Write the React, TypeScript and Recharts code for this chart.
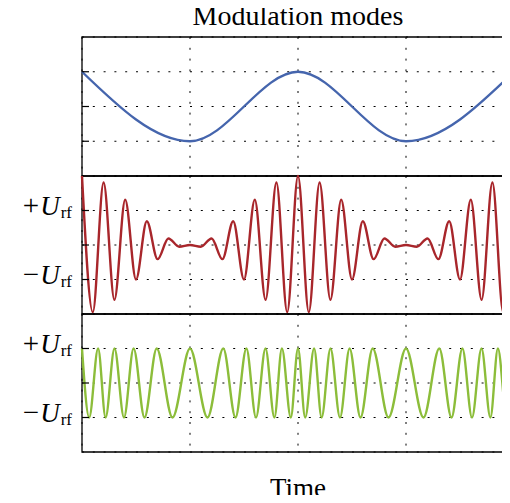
import { CartesianGrid, Line, LineChart, ReferenceArea, XAxis, YAxis } from "recharts";

// modulating signal: peaks and troughs
const modTimes = [0, 108, 216, 324, 432];
const modValues = [1, -1, 1, -1, 1];

// AM carrier: one extremum every half carrier period
const amTimes = [
  0, 10.8, 21.6, 32.4, 43.2, 54, 64.8, 75.6, 86.4, 97.2, 108, 118.8, 129.6, 140.4, 151.2, 162, 172.8, 183.6, 194.4,
  205.2, 216, 226.8, 237.6, 248.4, 259.2, 270, 280.8, 291.6, 302.4, 313.2, 324, 334.8, 345.6, 356.4, 367.2, 378,
  388.8, 399.6, 410.4, 421.2, 432,
];
const amValues = [
  2, -1.95, 1.81, -1.59, 1.31, -1, 0.69, -0.41, 0.19, -0.05, 0, -0.05, 0.19, -0.41, 0.69, -1, 1.31, -1.59, 1.81,
  -1.95, 2, -1.95, 1.81, -1.59, 1.31, -1, 0.69, -0.41, 0.19, -0.05, 0, -0.05, 0.19, -0.41, 0.69, -1, 1.31, -1.59,
  1.81, -1.95, 2,
];

// FM carrier: extrema get closer where the modulating signal is high
const fmTimes = [
  0, 7.2, 16.1, 23.6, 32.5, 42, 51.6, 62.5, 74.7, 90.5, 108, 125.5, 141.3, 153.5, 164.4, 174, 183.5, 192.4, 199.9,
  208.8, 216, 223.2, 232.1, 239.6, 248.5, 258, 267.6, 278.5, 290.7, 306.5, 324, 341.5, 357.3, 369.5, 380.4, 390,
  399.5, 408.4, 415.9, 424.8, 432,
];
const fmValues = [
  1, -1, 1, -1, 1, -1, 1, -1, 1, -1, 1, -1, 1, -1, 1, -1, 1, -1, 1, -1, 1, -1, 1, -1, 1, -1, 1, -1, 1, -1, 1, -1, 1,
  -1, 1, -1, 1, -1, 1, -1, 1,
];

const timeTicks = [108, 216, 324];
const levelTicks = [-1, 0, 1];
const levelSigns: Record<string, string> = { "1": "+", "-1": "\u2212" };

const toRows = (times: number[], values: number[]) => times.map((t, i) => ({ t, v: values[i] }));

const CHART_W = 514;
const AXIS_W = 82;

const LevelTick = (props: any) => {
  const { x, y, payload, labels } = props;
  const ax = x + 10;
  const sign = labels ? levelSigns[String(payload.value)] : undefined;
  return (
    <g>
      <line x1={ax} x2={ax + 7} y1={y} y2={y} stroke="#000" strokeWidth={1.2} />
      {sign && (
        <text x={x} y={y + 4} textAnchor="end" fontSize={27} fill="#000" fontFamily="Liberation Serif">
          <tspan fontSize={29}>{sign}</tspan>
          <tspan dx={1} fontStyle="italic">U</tspan>
          <tspan dx={1} dy={3} fontSize={17}>rf</tspan>
        </text>
      )}
    </g>
  );
};

const TimeTick = (props: any) => {
  const { x, y } = props;
  return <line x1={x} x2={x} y1={y - 8} y2={y - 18} stroke="#000" strokeWidth={1.2} />;
};

const NoTick = () => <g />;

interface PanelProps {
  rows: { t: number; v: number }[];
  color: string;
  top: number;
  height: number;
  labels?: boolean;
  timeMarks?: boolean;
}

const Panel = ({ rows, color, top, height, labels, timeMarks }: PanelProps) => (
  <div style={{ position: "absolute", left: 0, top }}>
    <LineChart width={CHART_W} height={height + 4} margin={{ top: 2, right: 0, bottom: 2, left: 0 }}>
      <CartesianGrid stroke="#000" strokeWidth={1} strokeDasharray="2 8.8" />
      <XAxis
        dataKey="t"
        type="number"
        domain={[0, 432]}
        ticks={timeTicks}
        interval={0}
        height={0}
        axisLine={false}
        tickLine={false}
        tick={timeMarks ? TimeTick : NoTick}
      />
      <YAxis
        type="number"
        domain={[-2, 2]}
        ticks={levelTicks}
        interval={0}
        width={AXIS_W}
        axisLine={false}
        tickLine={false}
        tickSize={6}
        tickMargin={4}
        tick={(p: any) => <LevelTick {...p} labels={labels} />}
      />
      <Line
        data={rows}
        dataKey="v"
        type="monotone"
        stroke={color}
        strokeWidth={2.4}
        dot={false}
        activeDot={false}
        isAnimationActive={false}
      />
      <ReferenceArea x1={0} x2={432} y1={-2} y2={2} fill="none" fillOpacity={0} stroke="#000" strokeWidth={1.3} />
    </LineChart>
  </div>
);

export default function App() {
  return (
    <div
      style={{
        position: "relative",
        margin: -8,
        width: 510,
        height: 503,
        overflow: "hidden",
        fontFamily: "Liberation Serif",
      }}
    >
      <Panel rows={toRows(modTimes, modValues)} color="#4565ad" top={35} height={139} />
      <Panel rows={toRows(amTimes, amValues)} color="#a8262b" top={174} height={138} labels />
      <Panel rows={toRows(fmTimes, fmValues)} color="#8cbd3a" top={312} height={138} labels timeMarks />
      <svg width={510} height={503} style={{ position: "absolute", left: 0, top: 0, pointerEvents: "none" }}>
        <text x={298} y={24.5} textAnchor="middle" fontSize={28} fill="#000" fontFamily="Liberation Serif">
          Modulation modes
        </text>
        <text x={298} y={496.7} textAnchor="middle" fontSize={27} fill="#000" fontFamily="Liberation Serif">
          Time
        </text>
      </svg>
    </div>
  );
}
